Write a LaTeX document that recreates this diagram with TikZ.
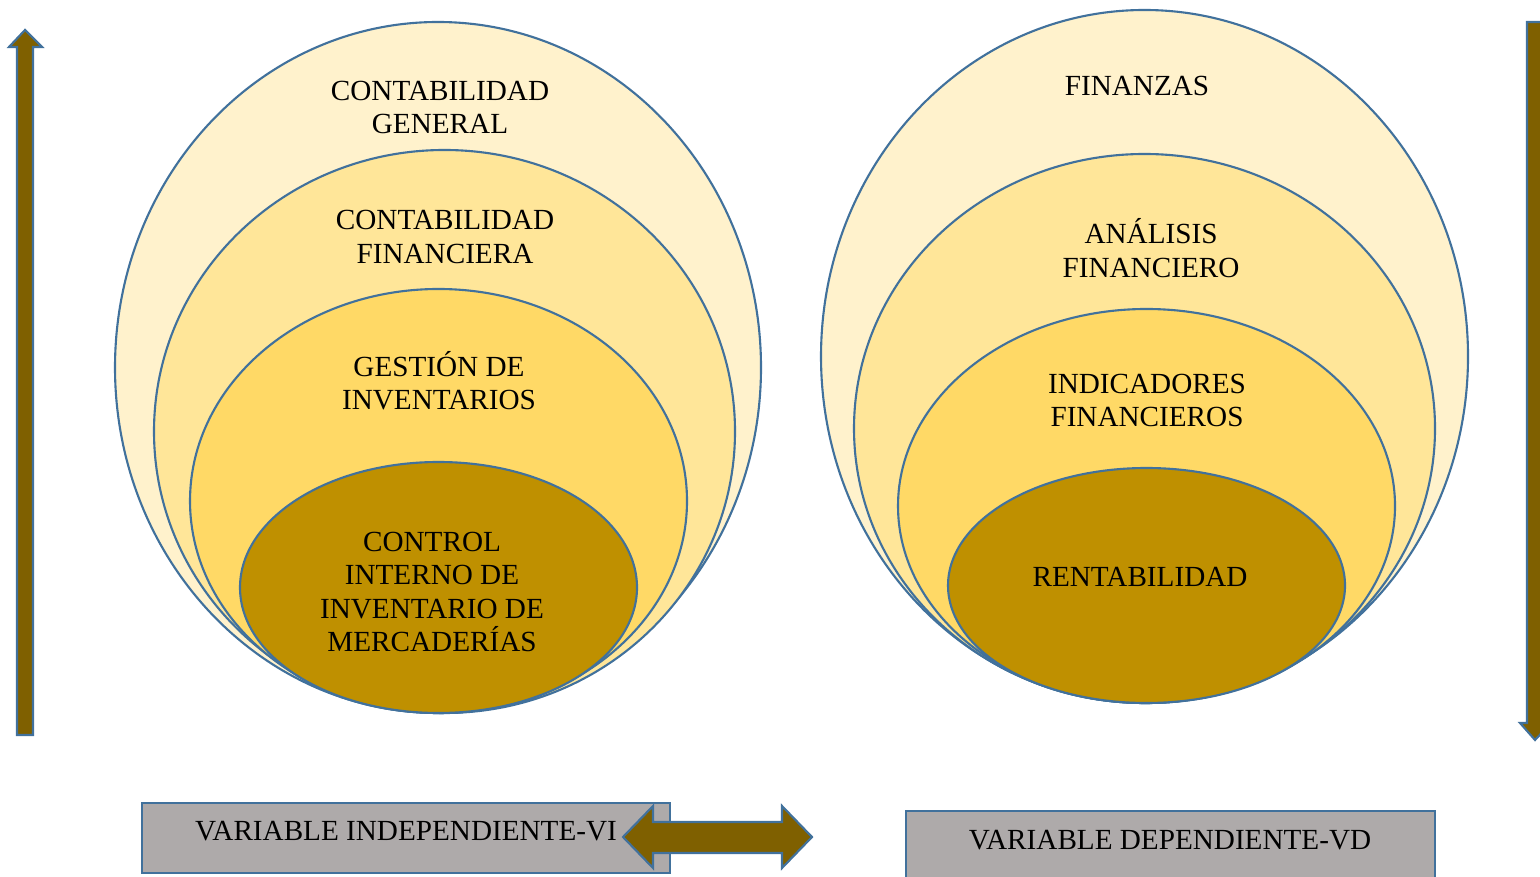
\documentclass[tikz,border=0pt]{standalone}
\usepackage{fontspec}
\setmainfont{Liberation Serif}
\usetikzlibrary{positioning}
\definecolor{borde}{HTML}{41719C}
\definecolor{crema}{HTML}{FFF2CC}
\definecolor{dorado}{HTML}{FFE699}
\definecolor{amarillo}{HTML}{FFD966}
\definecolor{ocre}{HTML}{BF9000}
\definecolor{cafe}{HTML}{7F6000}
\definecolor{gris}{HTML}{AEAAAA}

\begin{document}
\begin{tikzpicture}[x=0.01cm,y=-0.01cm]
                    \tikzstyle{every node}+=[inner sep=0pt, align=center, font=\fontsize{8.3}{9.5}\selectfont]
                    \tikzstyle{capa}=[draw=borde, line width=0.6pt]
                    \tikzstyle{flecha}=[draw=borde, fill=cafe, line width=0.6pt, line join=miter]
                    \useasboundingbox (0,0) rectangle (1540,877);
                    % variable independiente
                    \draw [capa, fill=crema] (438,367.5) ellipse [x radius=323, y radius=345.5];
                    \draw [capa, fill=dorado] (444.5,431.5) ellipse [x radius=290.5, y radius=281.5];
                    \draw [capa, fill=amarillo] (438.5,501) ellipse [x radius=248.5, y radius=212];
                    \draw [capa, fill=ocre] (438.5,587.5) ellipse [x radius=198.5, y radius=125.5];
                    \node (contgen) at (440,107.5) {CONTABILIDAD\\GENERAL};
                    \node (contfin) at (445,237) {CONTABILIDAD\\FINANCIERA};
                    \node (gestinv) at (439,380.5) {GESTIÓN DE\\INVENTARIOS};
                    \node (ctrlinv) at (432,592) {CONTROL\\INTERNO DE\\INVENTARIO DE\\MERCADERÍAS};
                    % variable dependiente
                    \draw [capa, fill=crema] (1144.5,356.5) ellipse [x radius=323.5, y radius=346.5];
                    \draw [capa, fill=dorado] (1144.5,428.5) ellipse [x radius=290.5, y radius=274.5];
                    \draw [capa, fill=amarillo] (1146.5,506) ellipse [x radius=248.5, y radius=197];
                    \draw [capa, fill=ocre] (1146.5,585.5) ellipse [x radius=198.5, y radius=117.5];
                    \node (finanzas) at (1137,86) {FINANZAS};
                    \node (analfin) at (1151,248) {ANÁLISIS\\FINANCIERO};
                    \node (indfin) at (1147,400.5) {INDICADORES\\FINANCIEROS};
                    \node (rentab) at (1140,577) {RENTABILIDAD};
                    % flechas laterales
                    \draw [flecha] (17,735) -- (17,47) -- (9,47) -- (25,30) -- (42,47) -- (33,47) -- (33,735) -- cycle;
                    \draw [flecha] (1527,22) -- (1527,723) -- (1520,723) -- (1535,740) -- (1551,723) -- (1543,723) -- (1543,22) -- cycle;
                    % recuadros
                    \draw [capa, fill=gris] (142,803) rectangle (670,873);
                    \node (vi) at (406,831) {VARIABLE INDEPENDIENTE-VI};
                    \draw [capa, fill=gris] (906,811) rectangle (1435,880);
                    \node (vd) at (1170,840) {VARIABLE DEPENDIENTE-VD};
                    \draw [flecha] (623,837) -- (653,806) -- (653,822) -- (782,822) -- (782,806) -- (812,837)
                        -- (782,868) -- (782,853) -- (653,853) -- (653,868) -- cycle;
                \end{tikzpicture}
\end{document}
